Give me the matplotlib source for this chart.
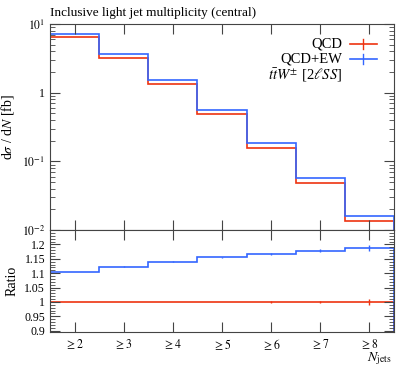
import matplotlib
matplotlib.use("Agg")
import matplotlib.pyplot as plt
import numpy as np

plt.rcParams['font.family'] = ['Liberation Serif', 'DejaVu Serif']
plt.rcParams['mathtext.fontset'] = 'stix'

# bin edges and labels
EDGES = [1.5, 2.5, 3.5, 4.5, 5.5, 6.5, 7.5, 8.5]
CENTERS = [2, 3, 4, 5, 6, 7, 8]
XLABELS = [r'$\geq 2$', r'$\geq 3$', r'$\geq 4$', r'$\geq 5$', r'$\geq 6$', r'$\geq 7$', r'$\geq 8$']

qcd = [6.4, 3.24, 1.35, 0.49, 0.158, 0.048, 0.0135]
qcd_ew = [7.07, 3.64, 1.54, 0.566, 0.184, 0.0566, 0.016]

ratio_qcd = [1.0, 1.0, 1.0, 1.0, 1.0, 1.0, 1.0]
ratio_ew = [1.104, 1.123, 1.140, 1.155, 1.167, 1.178, 1.187]
err_qcd = [0.0005, 0.0008, 0.001, 0.0015, 0.002, 0.004, 0.009]
err_ew = [0.0006, 0.0009, 0.0012, 0.0018, 0.0025, 0.005, 0.01]

RED = '#ee3311'
BLUE = '#3366ff'
LW = 1.2

fig = plt.figure(figsize=(4.07, 3.67), dpi=100)
ax = fig.add_axes([0.1229, 0.373, 0.845, 0.5617])
rax = fig.add_axes([0.1229, 0.095, 0.845, 0.278], sharex=ax)

ax.stairs(qcd, EDGES, color=RED, lw=LW)
ax.stairs(qcd_ew, EDGES, color=BLUE, lw=LW)
ax.set_yscale('log')
ax.set_ylim(0.01, 10)
ax.set_xlim(1.5, 8.5)
ax.set_yticks([10, 1, 0.1, 0.01])
ax.set_yticklabels([r'$10^{1}$', '1', r'$10^{-1}$', r'$10^{-2}$'])
ax.set_ylabel(r'd$\sigma$ / d$N$ [fb]', fontsize=10)
ax.set_title('Inclusive light jet multiplicity (central)', loc='left', fontsize=9.5, pad=6)

rax.stairs(ratio_qcd, EDGES, color=RED, lw=LW)
rax.stairs(ratio_ew, EDGES, color=BLUE, lw=LW)
rax.errorbar(CENTERS, ratio_qcd, yerr=err_qcd, fmt='none', ecolor=RED, elinewidth=1)
rax.errorbar(CENTERS, ratio_ew, yerr=err_ew, fmt='none', ecolor=BLUE, elinewidth=1)
rax.set_ylim(0.895, 1.25)
rax.set_yticks([0.9, 0.95, 1.0, 1.05, 1.1, 1.15, 1.2])
rax.set_yticklabels(['0.9', '0.95', '1', '1.05', '1.1', '1.15', '1.2'])
rax.set_yticks(np.arange(0.9, 1.25, 0.01), minor=True)
rax.set_ylabel('Ratio', fontsize=10)
rax.set_xticks(CENTERS)
rax.set_xticklabels(XLABELS)
rax.text(0.994, -0.255, r'$N_\mathrm{jets}$', transform=rax.transAxes,
         ha='right', va='center', fontsize=10)

for a in (ax, rax):
    a.tick_params(which='both', direction='in', top=True, right=True, labelsize=8.5, color='#444444')
    a.tick_params(which='major', length=7, width=0.8)
    a.tick_params(which='minor', length=3.5, width=0.6)
    a.tick_params(axis='x', which='minor', bottom=False, top=False)
    for s in a.spines.values():
        s.set_linewidth(0.8)
        s.set_color('#444444')
ax.tick_params(axis='x', labelbottom=False)

# legend, drawn by hand to match the layout
leg_rows = [('QCD', RED, 0.903), ('QCD+EW', BLUE, 0.829)]
for label, col, yy in leg_rows:
    ax.text(0.849, yy, label, transform=ax.transAxes, ha='right', va='center', fontsize=10.5)
    ax.plot([0.872, 0.950], [yy, yy], transform=ax.transAxes, color=col, lw=LW)
    ax.plot([0.911, 0.911], [yy - 0.025, yy + 0.025], transform=ax.transAxes, color=col, lw=1)
ax.text(0.849, 0.752, r'$t\bar{t}W^{\pm}$ [2$\ell SS$]', transform=ax.transAxes,
        ha='right', va='center', fontsize=10.5)

fig.savefig('out.png', dpi=100)
